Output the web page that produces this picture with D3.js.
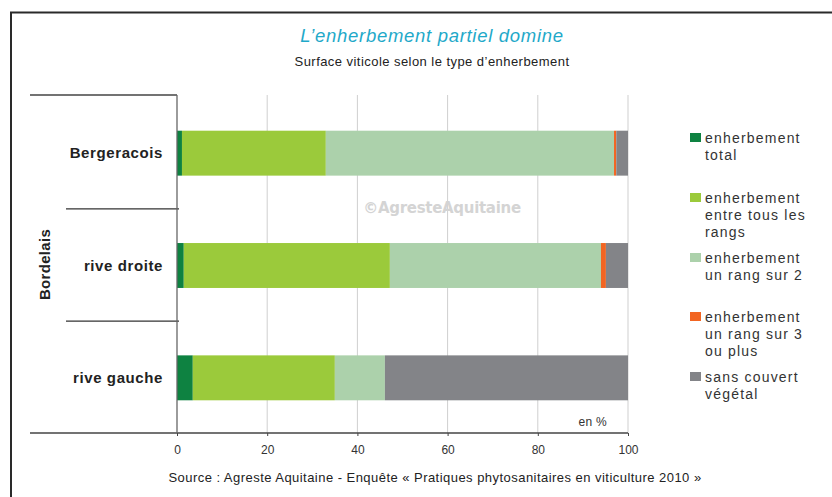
<!DOCTYPE html>
<html>
<head>
<meta charset="utf-8">
<script src="https://cdn.jsdelivr.net/npm/d3@7"></script>
<style>
  html, body { margin: 0; padding: 0; background: #fff; }
  svg { display: block; font-family: "Liberation Sans", Arial, sans-serif; }
</style>
</head>
<body>
<svg id="chart" width="832" height="497"></svg>
<script>
// Vineyard area by grass-cover type (%)
const categories = ["Bergeracois", "rive droite", "rive gauche"];
const seriesKeys = ["total", "tous", "un2", "un3", "sans"];
const seriesLabels = [
  ["enherbement", "total"],
  ["enherbement", "entre tous les", "rangs"],
  ["enherbement", "un rang sur 2"],
  ["enherbement", "un rang sur 3", "ou plus"],
  ["sans couvert", "végétal"]
];
const seriesColors = ["#0e8241", "#9bca3b", "#acd1ab", "#f26522", "#838488"];
const totalGrass    = [1.1, 1.5, 3.5];
const allRows       = [31.9, 45.7, 31.5];
const everyOtherRow = [63.9, 46.8, 11.1];
const everyThirdRow = [0.5, 1.1, 0];
const bareSoil      = [2.6, 4.9, 53.9];
const xTicks = [0, 20, 40, 60, 80, 100];
const groupLabel = "Bordelais";

const rows = categories.map((c, i) => ({
  cat: c,
  total: totalGrass[i],
  tous: allRows[i],
  un2: everyOtherRow[i],
  un3: everyThirdRow[i],
  sans: bareSoil[i]
}));

const svg = d3.select("#chart");

// outer frame (left and top edges)
svg.append("path")
  .attr("d", "M11,497 V12.5 H832")
  .attr("fill", "none").attr("stroke", "#2a2a2a").attr("stroke-width", 2);

// titles
svg.append("text")
  .attr("x", 432).attr("y", 42).attr("text-anchor", "middle")
  .attr("font-size", 18.5).attr("font-style", "italic").attr("fill", "#1fa9c9")
  .attr("letter-spacing", 0.7)
  .text("L’enherbement partiel domine");
svg.append("text")
  .attr("x", 432).attr("y", 66).attr("text-anchor", "middle")
  .attr("font-size", 13).attr("fill", "#222")
  .attr("letter-spacing", 0.45)
  .text("Surface viticole selon le type d’enherbement");

const x = d3.scaleLinear().domain([0, 100]).range([177, 628]);
const y = d3.scaleBand().domain(categories).range([96, 433])
  .paddingInner(0.6).paddingOuter(0.3);

const plotTop = 95, plotBottom = 433;

// vertical gridlines
svg.append("g").selectAll("line").data(xTicks.filter(d => d > 0)).join("line")
  .attr("x1", d => x(d)).attr("x2", d => x(d))
  .attr("y1", plotTop).attr("y2", plotBottom)
  .attr("stroke", "#cfcfcf").attr("stroke-width", 1);

// watermark
svg.append("text")
  .attr("x", 442).attr("y", 213).attr("text-anchor", "middle")
  .attr("font-size", 15).attr("font-weight", "bold").attr("fill", "#d4d4d4")
  .attr("font-family", "'DejaVu Sans', sans-serif")
  .attr("letter-spacing", -0.3)
  .text("©AgresteAquitaine");

// stacked bars
const stack = d3.stack().keys(seriesKeys);
const layers = stack(rows);
svg.append("g").selectAll("g").data(layers).join("g")
  .attr("fill", (d, i) => seriesColors[i])
  .selectAll("rect").data(d => d).join("rect")
  .attr("x", d => x(d[0]))
  .attr("width", d => x(d[1]) - x(d[0]))
  .attr("y", d => y(d.data.cat) + 1)
  .attr("height", y.bandwidth());

// axes frame
const axisColor = "#444";
const step = y.step();
svg.append("line").attr("x1", 30).attr("x2", 177).attr("y1", plotTop).attr("y2", plotTop)
  .attr("stroke", axisColor).attr("stroke-width", 1.3);
// separators between categories
svg.append("g").selectAll("line").data(categories.slice(1)).join("line")
  .attr("x1", 66).attr("x2", 179)
  .attr("y1", d => y(d) - step * 0.3 + 0.5)
  .attr("y2", d => y(d) - step * 0.3 + 0.5)
  .attr("stroke", "#333").attr("stroke-width", 1.3);
svg.append("line").attr("x1", 30).attr("x2", 628).attr("y1", plotBottom).attr("y2", plotBottom)
  .attr("stroke", axisColor).attr("stroke-width", 1.3);
svg.append("line").attr("x1", 177).attr("x2", 177).attr("y1", plotTop).attr("y2", plotBottom)
  .attr("stroke", "#666").attr("stroke-width", 1.3);

// x axis ticks and labels
const xAxis = d3.axisBottom(x).tickValues(xTicks).tickSize(3).tickPadding(9)
  .tickFormat(d3.format("d"));
const gx = svg.append("g").attr("transform", `translate(0,${plotBottom})`).call(xAxis);
gx.select(".domain").remove();
gx.selectAll(".tick line").attr("stroke", axisColor);
gx.selectAll(".tick text").attr("font-size", 12).attr("fill", "#333")
  .attr("font-family", "'Liberation Sans', Arial, sans-serif");

svg.append("text").attr("x", 607).attr("y", 426).attr("text-anchor", "end")
  .attr("font-size", 12).attr("fill", "#333").attr("letter-spacing", 0.3).text("en %");

// category labels
svg.append("g").selectAll("text").data(categories).join("text")
  .attr("x", 163).attr("y", d => y(d) + y.bandwidth() / 2 + 6)
  .attr("text-anchor", "end").attr("font-size", 15).attr("font-weight", "bold")
  .attr("fill", "#222").attr("letter-spacing", 0.6)
  .text(d => d);

// group label
svg.append("text")
  .attr("transform", `translate(50,${(y("rive droite") + y.bandwidth() / 2)}) rotate(-90)`)
  .attr("text-anchor", "middle").attr("font-size", 15).attr("font-weight", "bold")
  .attr("fill", "#222").attr("letter-spacing", 0.3)
  .text(groupLabel);

// legend
const legendTops = [133, 193, 253, 312, 372];
const lg = svg.append("g").selectAll("g").data(seriesLabels).join("g")
  .attr("transform", (d, i) => `translate(690,${legendTops[i]})`);
lg.append("rect").attr("width", 11).attr("height", 9)
  .attr("fill", (d, i) => seriesColors[i]);
lg.append("text").attr("x", 15).attr("y", 0)
  .attr("font-size", 14).attr("fill", "#333").attr("letter-spacing", 1.2)
  .selectAll("tspan").data(d => d).join("tspan")
  .attr("x", 15).attr("y", (d, i) => 9.5 + i * 17)
  .text(d => d);

// source
svg.append("text")
  .attr("x", 435).attr("y", 482).attr("text-anchor", "middle")
  .attr("font-size", 13).attr("fill", "#222").attr("letter-spacing", 0.46)
  .text("Source : Agreste Aquitaine - Enquête « Pratiques phytosanitaires en viticulture 2010 »");
</script>
</body>
</html>
